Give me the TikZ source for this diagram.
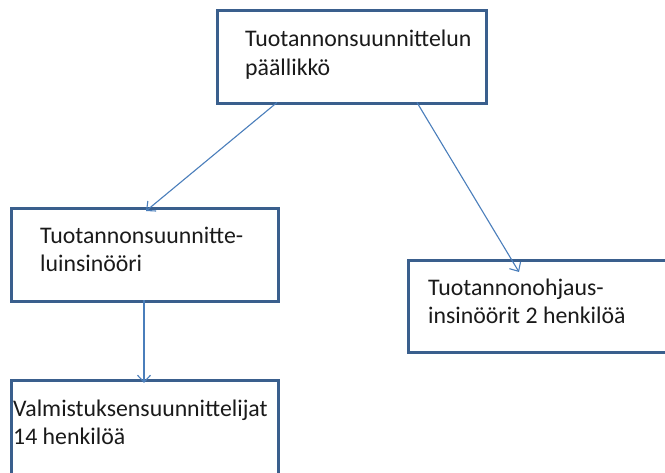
\documentclass[tikz,border=0pt]{standalone}
\usepackage{fontspec}
\setmainfont{Carlito}
\usetikzlibrary{arrows.meta}
\definecolor{boxline}{HTML}{3A5F8D}
\definecolor{linkline}{HTML}{4A7EBB}
\definecolor{txt}{HTML}{1A1A1A}
\tikzset{
  orgbox/.style={draw=boxline, line width=3pt, rectangle, inner sep=0pt, outer sep=0pt, anchor=north west},
  % base anchor of a multi-line node sits on the last line
  orgtext/.style={anchor=base west, inner sep=0pt, align=left, text=txt, font=\fontsize{23.8}{28.5}\selectfont},
  link/.style={draw=linkline, line width=1.1pt, -{Straight Barb[length=7pt,width=13pt,line width=1.1pt]}}
}
\begin{document}
\begin{tikzpicture}[x=1pt,y=-1pt]
  \clip (0,0) rectangle (665,473);
  \fill[white] (0,0) rectangle (665,473);
  % boxes
  \node[orgbox, minimum width=269pt, minimum height=93pt] (head) at (217,11) {};
  \node[orgbox, minimum width=267pt, minimum height=93pt] (eng) at (11,209) {};
  \node[orgbox, minimum width=300pt, minimum height=92pt] (ctrl) at (408,261) {};
  \node[orgbox, minimum width=267pt, minimum height=110pt] (plan) at (11,381) {};
  % labels
  \node[orgtext] (headtxt) at (245,75.5) {Tuotannonsuunnittelun\\päällikkö};
  \node[orgtext] (engtxt) at (40,272) {Tuotannonsuunnitte-\\luinsinööri};
  \node[orgtext] (ctrltxt) at (428,324) {Tuotannonohjaus-\\insinöörit 2 henkilöä};
  \node[orgtext] (plantxt) at (13,445) {Valmistuksensuunnittelijat\\14 henkilöä};
  % connectors
  \draw[link] ([xshift=60pt,yshift=1.5pt]head.south west) -- ([xshift=135pt,yshift=-2pt]eng.north west);
  \draw[link] ([xshift=200pt,yshift=1.5pt]head.south west) -- ([xshift=111pt,yshift=-11pt]ctrl.north west);
  \draw[link] ([xshift=133pt,yshift=1.5pt]eng.south west) -- ([xshift=133pt,yshift=-2pt]plan.north west);
\end{tikzpicture}
\end{document}
